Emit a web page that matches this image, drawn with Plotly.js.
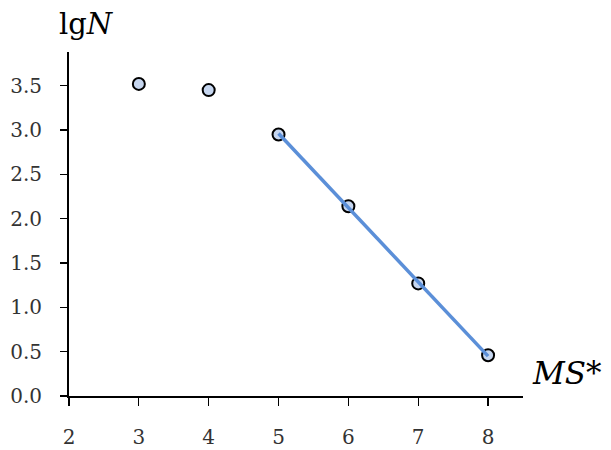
<!DOCTYPE html>
<html>
<head>
<meta charset="utf-8">
<script src="https://cdn.plot.ly/plotly-3.0.1.min.js"></script>
<style>html,body{margin:0;padding:0;background:#fff;}#chart{width:611px;height:450px;}</style>
</head>
<body>
<div id="chart"></div>
<script>
var msValues = [3, 4, 5, 6, 7, 8];
var lgNValues = [3.52, 3.45, 2.95, 2.14, 1.27, 0.46];
var trendX = [5, 8];
var trendY = [2.96, 0.45];
var xTicks = [2, 3, 4, 5, 6, 7, 8];
var yTicks = [0, 0.5, 1, 1.5, 2, 2.5, 3, 3.5];

var serif = 'DejaVu Serif';

var data = [
  {
    x: msValues, y: lgNValues, type: 'scatter', mode: 'markers',
    marker: {size: 12, color: '#c6d6ef', line: {color: '#000', width: 2}},
    showlegend: false, hoverinfo: 'none'
  },
  {
    x: trendX, y: trendY, type: 'scatter', mode: 'lines',
    line: {color: '#5b8fd8', width: 3.5},
    showlegend: false, hoverinfo: 'none'
  }
];

var layout = {
  width: 611, height: 450,
  margin: {l: 69, r: 88, t: 52, b: 54},
  paper_bgcolor: '#fff', plot_bgcolor: '#fff',
  font: {family: serif},
  xaxis: {
    range: [2, 8.5], tickvals: xTicks, ticks: 'outside', ticklen: 8, tickwidth: 1.2,
    tickcolor: '#000', showline: true, linecolor: '#000', linewidth: 1.5,
    showgrid: false, zeroline: false, ticklabelstandoff: 14,
    tickfont: {family: serif, size: 20, color: '#333'}
  },
  yaxis: {
    range: [0, 3.88], tickvals: yTicks, tickformat: '.1f', ticks: 'outside', ticklen: 7, tickwidth: 1.2,
    tickcolor: '#000', showline: true, linecolor: '#000', linewidth: 2,
    showgrid: false, zeroline: false, ticklabelstandoff: 14,
    tickfont: {family: serif, size: 20, color: '#333'}
  },
  annotations: [
    {text: 'lg<i>N</i>', xref: 'paper', yref: 'paper', x: -0.026, y: 1.025, xanchor: 'left', yanchor: 'bottom',
     showarrow: false, font: {family: serif, size: 29, color: '#000'}},
    {text: '<i>MS</i>*', xref: 'paper', yref: 'paper', x: 1.015, y: 0.067, xanchor: 'left', yanchor: 'middle',
     showarrow: false, font: {family: serif, size: 31, color: '#000'}}
  ]
};

Plotly.newPlot('chart', data, layout, {staticPlot: true, displayModeBar: false});
</script>
</body>
</html>
